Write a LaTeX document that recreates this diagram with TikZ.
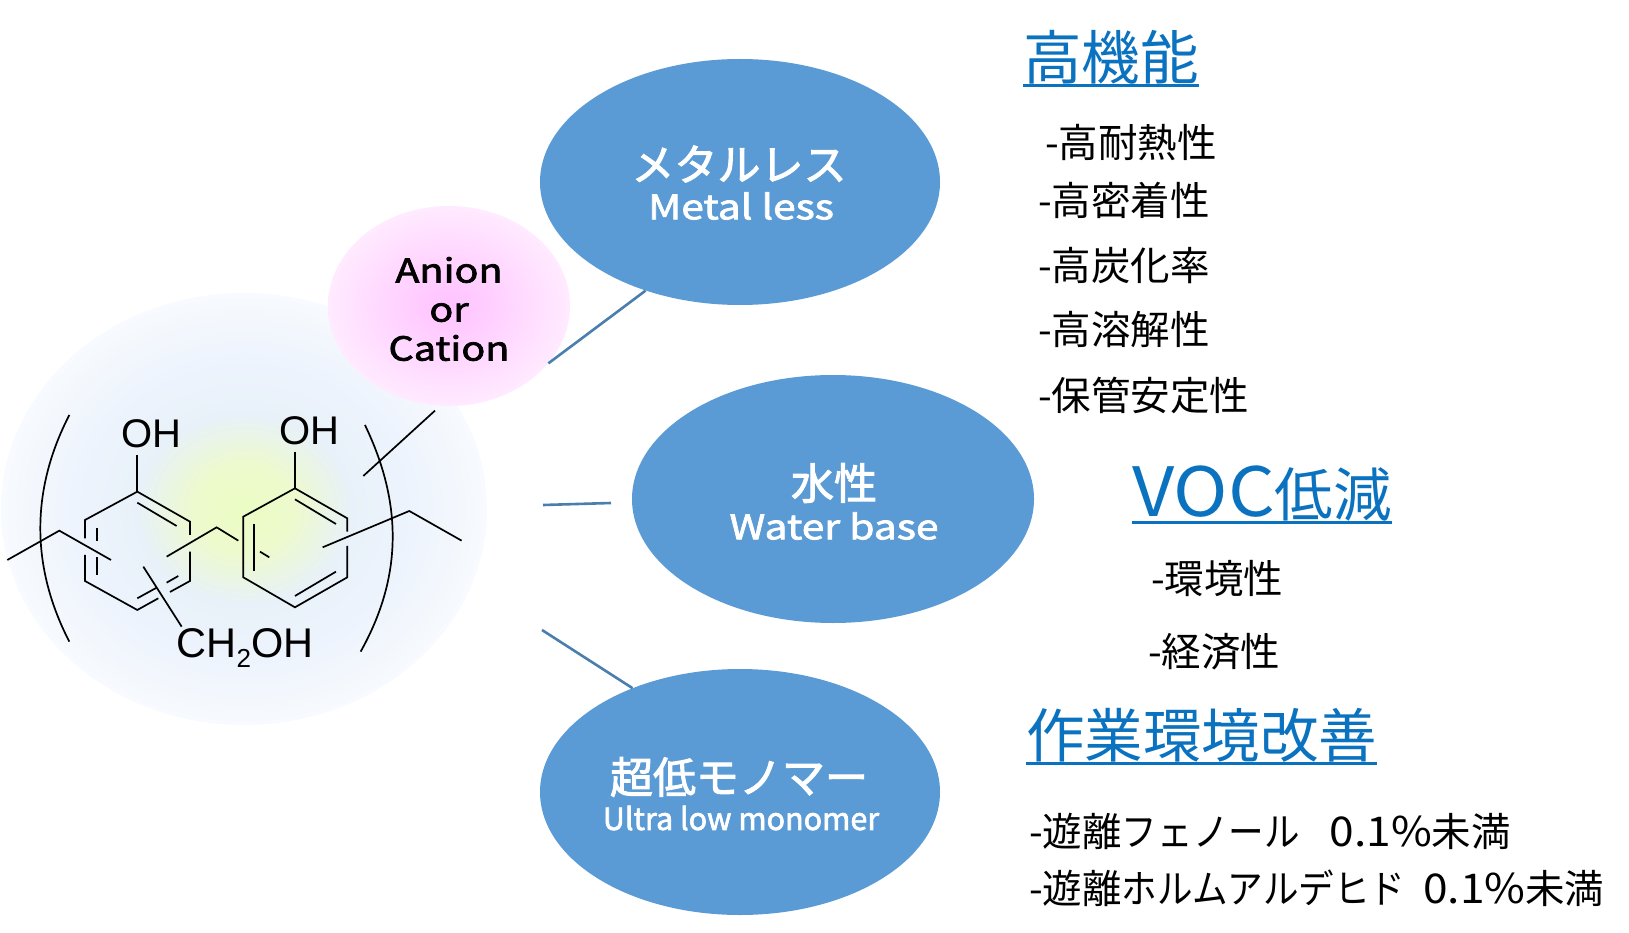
\documentclass[tikz,border=0pt]{standalone}
\usepackage{fontspec}
\usepackage{xcolor}
\usepackage{tikz}
\usetikzlibrary{shapes,arrows,positioning,fit}

\setmainfont{Noto Sans CJK JP}
\newfontfamily\kanafont[FakeStretch=0.9]{Noto Sans CJK JP}
\newfontfamily\widefont[FakeStretch=1.08]{Noto Sans CJK JP}
\newfontfamily\chemfont{Liberation Sans}
\newfontfamily\labelfont[FakeStretch=1.2,FakeBold=2.2]{Noto Sans CJK JP}
\newfontfamily\blobfont[FakeBold=2.2]{Noto Sans CJK JP}

\definecolor{blobblue}{HTML}{5B9BD5}
\definecolor{headblue}{HTML}{0B72BF}
\definecolor{linkblue}{HTML}{4A7EAE}

\pgfdeclareradialshading{resinglow}{\pgfpoint{0bp}{0bp}}{
  rgb(0bp)=(0.92,0.99,0.77);
  rgb(5bp)=(0.93,0.98,0.80);
  rgb(11bp)=(0.91,0.945,0.975);
  rgb(17bp)=(0.93,0.955,0.99);
  rgb(25bp)=(0.97,0.98,0.995);
  rgb(50bp)=(1,1,1)}
\pgfdeclareradialshading{ionglow}{\pgfpoint{0bp}{0bp}}{
  color(0bp)=(magenta!24!white);
  color(10bp)=(magenta!18!white);
  color(25bp)=(magenta!8!white);
  color(50bp)=(white)}

% heading with its rule
\newcommand{\headline}[1]{\setbox0\hbox{#1}\rlap{\rule[-0.125em]{\wd0}{0.05em}}\box0}
\newcommand{\headsize}{\fontsize{58.5}{62}\selectfont}
\newcommand{\itemsize}{\fontsize{39.5}{42}\selectfont}

\begin{document}
\begin{tikzpicture}[
    x=1pt, y=-1pt,
    blob/.style={ellipse, fill=blobblue, minimum width=400pt, minimum height=246pt, inner sep=0pt},
    blobjp/.style={inner sep=0pt, text=white, font=\blobfont\fontsize{43}{43}\selectfont},
    bloben/.style={inner sep=0pt, text=white, font=\labelfont\fontsize{34}{34}\selectfont},
    head/.style={anchor=west, inner sep=0pt, text=headblue, font=\headsize},
    item/.style={anchor=west, inner sep=0pt, font=\itemsize},
    chem/.style={inner sep=0pt, text=black, font=\chemfont\fontsize{40}{40}\selectfont},
    link/.style={linkblue, line width=2.6pt},
    bond/.style={black, line width=1.7pt}
]
\useasboundingbox (0,0) rectangle (1629,933);

\node[ellipse, shading=resinglow, minimum width=486pt, minimum height=432pt, inner sep=0pt] (resin) at (244,509) {};

% the molecule, in units of a third of a pixel
\begin{scope}[shift={(0,380)}, x=0.3333pt, y=-0.3333pt, bond]
\draw (208,105) .. controls (92,330) and (92,560) .. (208,785);
\draw (1095,135) .. controls (1208,370) and (1208,590) .. (1082,815);
% left ring
\draw (255,475) -- (255,420) -- (412,335) -- (570,425) -- (570,465);
\draw (570,515) -- (570,603) -- (510,636);
\draw (475,655) -- (412,690) -- (255,603) -- (255,525);
\draw (412,368) -- (530,438);
\draw (290,445) -- (290,482);
\draw (290,532) -- (290,585);
\draw (412,655) -- (470,623);
\draw (500,608) -- (535,588);
% right ring
\draw (1042,455) -- (1042,415) -- (885,325) -- (730,410) -- (730,592) -- (885,682) -- (1042,592) -- (1042,498);
\draw (885,358) -- (1008,432);
\draw (763,432) -- (763,572);
\draw (780,515) -- (808,532);
\draw (885,648) -- (1008,575);
% side groups
\draw (412,225) -- (412,335);
\draw (885,215) -- (885,325);
\draw (22,540) -- (178,452) -- (333,540);
\draw (500,530) -- (650,442) -- (715,482);
\draw (430,560) -- (545,740);
\draw (968,502) -- (1228,393) -- (1385,482);
\draw (1305,92) -- (1090,288);
\end{scope}

\node[chem] (oha) at (151,434) {OH};
\node[chem] (ohb) at (309,431) {OH};
\node[chem, font=\chemfont\fontsize{41.5}{41.5}\selectfont] (ch) at (245,648) {CH\raisebox{-0.22em}{\fontsize{26}{26}\selectfont 2}OH};

\node[ellipse, shading=ionglow, minimum width=242pt, minimum height=200pt, inner sep=0pt] (ion) at (449,306) {};
\node[inner sep=0pt, align=center, font=\labelfont\fontsize{33}{39}\selectfont] (iontext) at (449,309) {Anion\\or\\Cation};

\node[blob] (metal) at (740,182) {};
\node[blob, minimum width=402pt, minimum height=248pt] (water) at (833,499) {};
\node[blob] (ultra) at (740,792) {};
\node[blobjp] (metaljp) at (739,164) {メタルレス};
\node[bloben] (metalen) at (741,206) {Metal less};
\node[blobjp] (waterjp) at (834,483) {水性};
\node[bloben] (wateren) at (834,526) {Water base};
\node[blobjp] (ultrajp) at (739,777) {超低モノマー};
\node[bloben, font=\blobfont\fontsize{30.5}{32}\selectfont] (ultraen) at (741,818) {Ultra low monomer};

\coordinate (waterend) at (543,505);
\coordinate (watertip) at (611,503);
\coordinate (ultraend) at (542,630);
\draw[link] (ion.-30) -- (metal.229);
\draw[link] (waterend) -- (watertip);
\draw[link] (ultraend) -- (ultra.136);

\node[head] (perf) at (1023,59) {\headline{高機能}};
\node[item] (perfa) at (1045,142) {-高耐熱性};
\node[item] (perfb) at (1038,200) {-高密着性};
\node[item] (perfc) at (1038,266) {-高炭化率};
\node[item] (perfd) at (1038,330) {-高溶解性};
\node[item] (perfe) at (1038,395) {-保管安定性};

\node[head] (voc) at (1132,495) {\headline{{\widefont\fontsize{68}{62}\selectfont VOC}低減}};
\node[item] (voca) at (1151,578) {-環境性};
\node[item] (vocb) at (1148,652) {-経済性};

\node[head] (work) at (1026,737) {\headline{作業環境改善}};
\node[item] (worka) at (1029,831) {-遊離{\kanafont フェノール}\hspace{30pt}{\widefont\fontsize{41}{42}\selectfont 0.1\%}未満};
\node[item] (workb) at (1029,888) {-遊離{\kanafont ホルムアルデヒド}\hspace{18pt}{\widefont\fontsize{41}{42}\selectfont 0.1\%}未満};
\end{tikzpicture}
\end{document}
